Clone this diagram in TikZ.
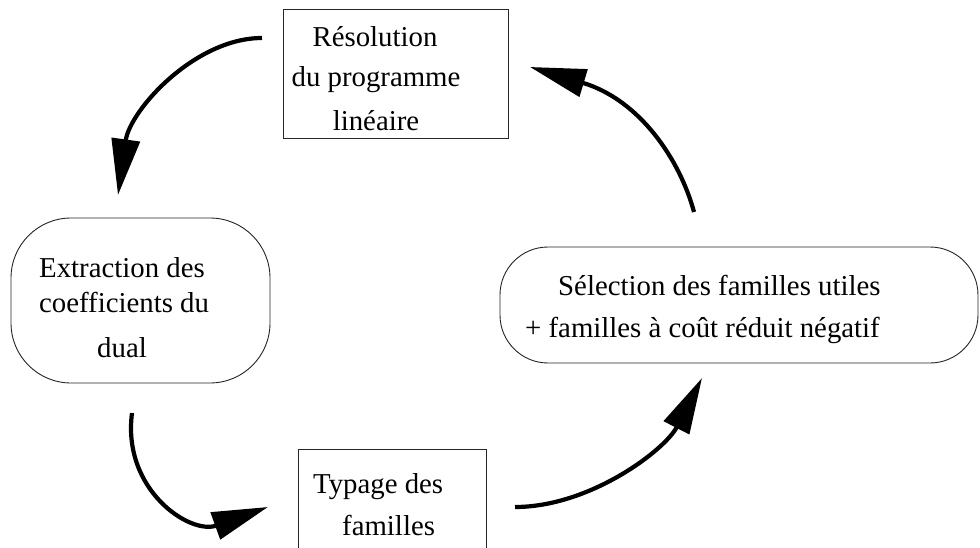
\documentclass[tikz,border=0pt]{standalone}
\usepackage{fontspec}
\setmainfont{Liberation Serif}[Ligatures=NoCommon]
\usetikzlibrary{arrows.meta}
\begin{document}
\begin{tikzpicture}[x=1pt,y=-1pt,
  boxnode/.style={draw=black!85, line width=0.9pt, rectangle, inner sep=0pt, outer sep=0pt, anchor=north west},
  roundnode/.style={boxnode, rounded corners=#1},
  txt/.style={inner sep=0pt, font=\fontsize{28.8}{40}\selectfont},
  cyclearrow/.style={line width=4.2pt, -{Triangle[length=56pt,width=28pt]}}]
\useasboundingbox (0,0) rectangle (980,548);
\clip (0,0) rectangle (980,548);
\fill[white] (0,0) rectangle (980,548);

% shapes
\node[boxnode, minimum width=225pt, minimum height=129pt] (resol) at (283,9) {};
\node[roundnode=60pt, minimum width=259pt, minimum height=165pt] (extr) at (11,218) {};
\node[roundnode=48pt, minimum width=478pt, minimum height=116pt] (selec) at (500,247) {};
\node[boxnode, minimum width=188pt, minimum height=140pt] (typ) at (298,449) {};

% texts
\node[txt, anchor=base] (resolA) at (375,47) {Résolution};
\node[txt, anchor=base] (resolB) at (376,87) {du programme};
\node[txt, anchor=base] (resolC) at (376,131) {linéaire};

\node[txt, anchor=base west] (extrA) at (39,277) {Extraction des};
\node[txt, anchor=base west] (extrB) at (39,312) {coefficients du};
\node[txt, anchor=base west] (extrC) at (97,357) {dual};

\node[txt, anchor=base west] (selecA) at (558,295) {Sélection des familles utiles};
\node[txt, anchor=base west] (selecB) at (525,337) {+ familles à coût réduit négatif};

\node[txt, anchor=base west] (typA) at (313,493) {Typage des};
\node[txt, anchor=base west] (typB) at (342,535) {familles};

% arrows
\coordinate (a1s) at (262,38);  \coordinate (a1e) at (118,195);
\coordinate (a2s) at (132,413); \coordinate (a2e) at (268,507);
\coordinate (a3s) at (515,507); \coordinate (a3e) at (702,378);
\coordinate (a4s) at (694,212); \coordinate (a4e) at (530,67);

\draw[cyclearrow] (a1s) .. controls (195,38) and (130,110) .. (a1e);
\draw[cyclearrow] (a2s) .. controls (122,490) and (190,535) .. (a2e);
\draw[cyclearrow] (a3s) .. controls (590,507) and (665,450) .. (a3e);
\draw[cyclearrow] (a4s) .. controls (680,160) and (640,100) .. (a4e);
\end{tikzpicture}
\end{document}
